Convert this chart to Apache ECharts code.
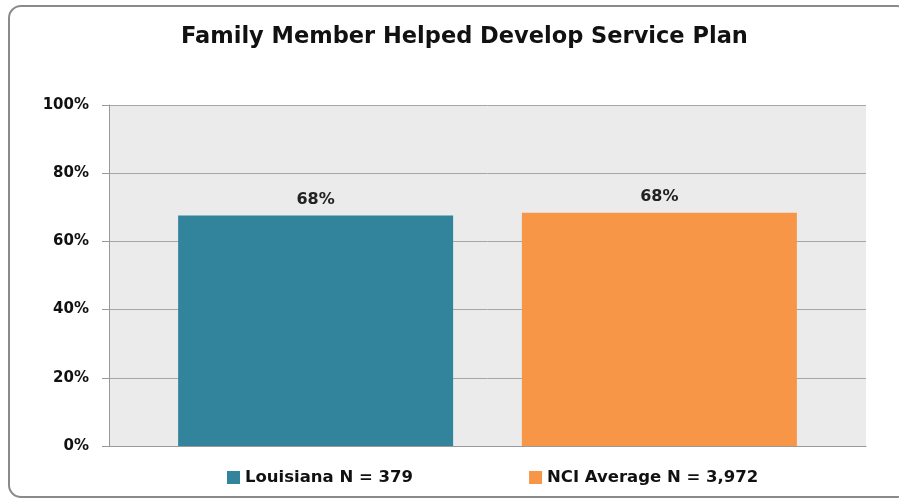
<!DOCTYPE html>
<html><head><meta charset="utf-8">
<script src="https://cdn.jsdelivr.net/npm/echarts@6/dist/echarts.min.js"></script>
<style>html,body{margin:0;padding:0;background:#fff}#c{width:899px;height:501px}</style>
</head><body><div id="c"></div>
<script>
const titleText = "Family Member Helped Develop Service Plan";
const categories = [""];
const seriesNames = ["Louisiana N = 379", "NCI Average N = 3,972"];
const louisiana = [67.6];
const nciAverage = [68.4];
const yTicks = [0, 20, 40, 60, 80, 100];
const colors = ["#31849b", "#f79646"];

const chart = echarts.init(document.getElementById('c'), null, {renderer: 'canvas'});
const font = "'DejaVu Sans', sans-serif";
const lbl = {show: true, position: 'top', distance: 8, fontFamily: font, fontWeight: 'bold', fontSize: 16, color: '#222',
  formatter: p => Math.round(p.value) + '%'};
chart.setOption({
  animation: false,
  backgroundColor: '#fff',
  title: {text: titleText, left: 176, top: 21, textStyle: {fontFamily: font, fontWeight: 'bold', fontSize: 22.5, color: '#111'}},
  graphic: [{type: 'rect', shape: {x: 9, y: 6, width: 900, height: 491, r: 12}, style: {fill: 'none', stroke: '#8a8a8a', lineWidth: 2}, z: 100}],
  grid: {left: 109, right: 33, top: 105, bottom: 55, show: true, backgroundColor: '#ebebeb', borderWidth: 0},
  legend: {bottom: 10, left: 222, itemGap: 116, itemWidth: 13, itemHeight: 13, icon: 'rect',
    textStyle: {fontFamily: font, fontWeight: 'bold', fontSize: 16.5, color: '#111'}},
  xAxis: {type: 'category', data: categories, axisTick: {show: false}, axisLabel: {show: false},
    axisLine: {show: true, lineStyle: {color: '#999', width: 1}}},
  yAxis: {type: 'value', min: 0, max: 100, interval: 20,
    axisLine: {show: true, lineStyle: {color: '#999'}},
    axisTick: {show: true, length: 7, lineStyle: {color: '#999'}},
    splitLine: {lineStyle: {color: '#a6a6a6', width: 1}},
    axisLabel: {margin: 20, fontFamily: font, fontWeight: 'bold', fontSize: 15, color: '#111',
      formatter: v => yTicks.includes(v) ? v + '%' : ''}},
  series: [
    {name: seriesNames[0], type: 'bar', data: louisiana, barWidth: 275, barGap: '25%', itemStyle: {color: colors[0]}, label: lbl},
    {name: seriesNames[1], type: 'bar', data: nciAverage, barWidth: 275, itemStyle: {color: colors[1]}, label: lbl}
  ]
});
</script></body></html>
